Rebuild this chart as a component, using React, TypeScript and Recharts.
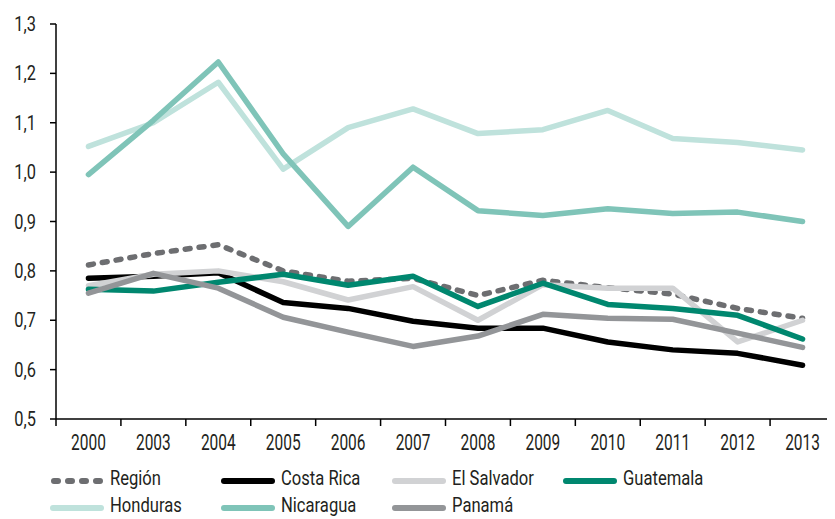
import { LineChart, Line, XAxis, YAxis } from 'recharts';

const years = ['2000', '2003', '2004', '2005', '2006', '2007', '2008', '2009', '2010', '2011', '2012', '2013'];

const region = [0.812, 0.835, 0.853, 0.8, 0.779, 0.785, 0.75, 0.781, 0.766, 0.753, 0.724, 0.704];
const costaRica = [0.785, 0.789, 0.796, 0.736, 0.724, 0.698, 0.684, 0.684, 0.656, 0.64, 0.633, 0.609];
const elSalvador = [0.77, 0.793, 0.8, 0.778, 0.741, 0.768, 0.7, 0.772, 0.765, 0.765, 0.656, 0.7];
const guatemala = [0.763, 0.759, 0.777, 0.793, 0.771, 0.789, 0.728, 0.775, 0.732, 0.724, 0.71, 0.662];
const honduras = [1.052, 1.1, 1.182, 1.006, 1.09, 1.128, 1.078, 1.086, 1.125, 1.068, 1.06, 1.045];
const nicaragua = [0.995, 1.105, 1.223, 1.037, 0.89, 1.01, 0.922, 0.912, 0.926, 0.916, 0.919, 0.9];
const panama = [0.755, 0.795, 0.765, 0.706, 0.676, 0.647, 0.668, 0.712, 0.704, 0.702, 0.674, 0.645];

const yTicks = [0.5, 0.6, 0.7, 0.8, 0.9, 1.0, 1.1, 1.2, 1.3];

const series = [
  { key: 'region', name: 'Región', color: '#6d6e71', values: region, dashed: true },
  { key: 'costaRica', name: 'Costa Rica', color: '#000000', values: costaRica },
  { key: 'elSalvador', name: 'El Salvador', color: '#d1d2d4', values: elSalvador },
  { key: 'guatemala', name: 'Guatemala', color: '#00876f', values: guatemala },
  { key: 'honduras', name: 'Honduras', color: '#bfe2dc', values: honduras },
  { key: 'nicaragua', name: 'Nicaragua', color: '#7fc4b8', values: nicaragua },
  { key: 'panama', name: 'Panamá', color: '#939598', values: panama },
];

const data = years.map((year, i) => {
  const row: Record<string, string | number> = { year };
  series.forEach((s) => {
    row[s.key] = s.values[i];
  });
  return row;
});

const FONT = 'Roboto, "Noto Sans", sans-serif';
const TEXT = '#231f20';
const LEFT = 56;
const CHART_W = 835;
const BAND = (CHART_W - LEFT) / years.length;

function YearTick(props: any) {
  const { x, y, payload } = props;
  return (
    <g>
      <line x1={x - BAND / 2} y1={y} x2={x - BAND / 2} y2={y + 7} stroke="#000" strokeWidth={1.5} />
      <text
        transform={`translate(${x},${y + 31}) scale(0.72,1)`}
        textAnchor="middle"
        fontSize={21.5}
        fill={TEXT}
        fontFamily={FONT}
      >
        {payload.value}
      </text>
    </g>
  );
}

function ValueTick(props: any) {
  const { x, y, payload } = props;
  return (
    <text
      transform={`translate(${x},${y + 7}) scale(0.78,1)`}
      textAnchor="end"
      fontSize={21}
      fill={TEXT}
      fontFamily={FONT}
    >
      {Number(payload.value).toFixed(1).replace('.', ',')}
    </text>
  );
}

function LegendIcon({ color, dashed }: { color: string; dashed?: boolean }) {
  return (
    <svg width={54} height={8} style={{ display: 'block', flex: 'none' }}>
      {dashed ? (
        <line x1={4} y1={4} x2={52} y2={4} stroke={color} strokeWidth={6} strokeLinecap="round" strokeDasharray="4 10" />
      ) : (
        <line x1={3} y1={4} x2={51} y2={4} stroke={color} strokeWidth={6} strokeLinecap="round" />
      )}
    </svg>
  );
}

export default function App() {
  return (
    <div style={{ position: 'relative', width: CHART_W, height: 519, marginLeft: -8, marginTop: -8, background: '#fff' }}>
      <LineChart width={CHART_W} height={519} data={data} margin={{ top: 24, right: 0, left: 0, bottom: 60 }}>
        <XAxis
          dataKey="year"
          height={40}
          padding={{ left: BAND / 2, right: BAND / 2 }}
          axisLine={{ stroke: '#000', strokeWidth: 1.5 }}
          tickLine={false}
          tickSize={0}
          tickMargin={0}
          tick={<YearTick />}
          interval={0}
        />
        <YAxis
          width={LEFT}
          domain={[0.5, 1.3]}
          ticks={yTicks}
          axisLine={{ stroke: '#000', strokeWidth: 1.5 }}
          tickLine={{ stroke: '#000', strokeWidth: 1.5 }}
          tickSize={6}
          tickMargin={14}
          tick={<ValueTick />}
        />
        {series.map((s) => (
          <Line
            key={s.key}
            dataKey={s.key}
            name={s.name}
            type="linear"
            stroke={s.color}
            strokeWidth={5.5}
            strokeDasharray={s.dashed ? '5 9' : undefined}
            strokeLinecap="round"
            strokeLinejoin="round"
            dot={false}
            activeDot={false}
            isAnimationActive={false}
          />
        ))}
      </LineChart>
      <div
        style={{
          position: 'absolute',
          left: 50,
          top: 468,
          display: 'grid',
          gridTemplateColumns: 'repeat(4, 171px)',
          rowGap: 2,
          fontFamily: FONT,
          fontSize: 21,
          lineHeight: '15px',
          color: TEXT,
        }}
      >
        {series.map((s) => (
          <div key={s.key} style={{ display: 'flex', alignItems: 'center', gap: 6, height: 25, whiteSpace: 'nowrap' }}>
            <LegendIcon color={s.color} dashed={s.dashed} />
            <span style={{ display: 'inline-block', transform: 'translateY(-2px) scaleX(0.79)', transformOrigin: 'left center' }}>
              {s.name}
            </span>
          </div>
        ))}
      </div>
    </div>
  );
}
